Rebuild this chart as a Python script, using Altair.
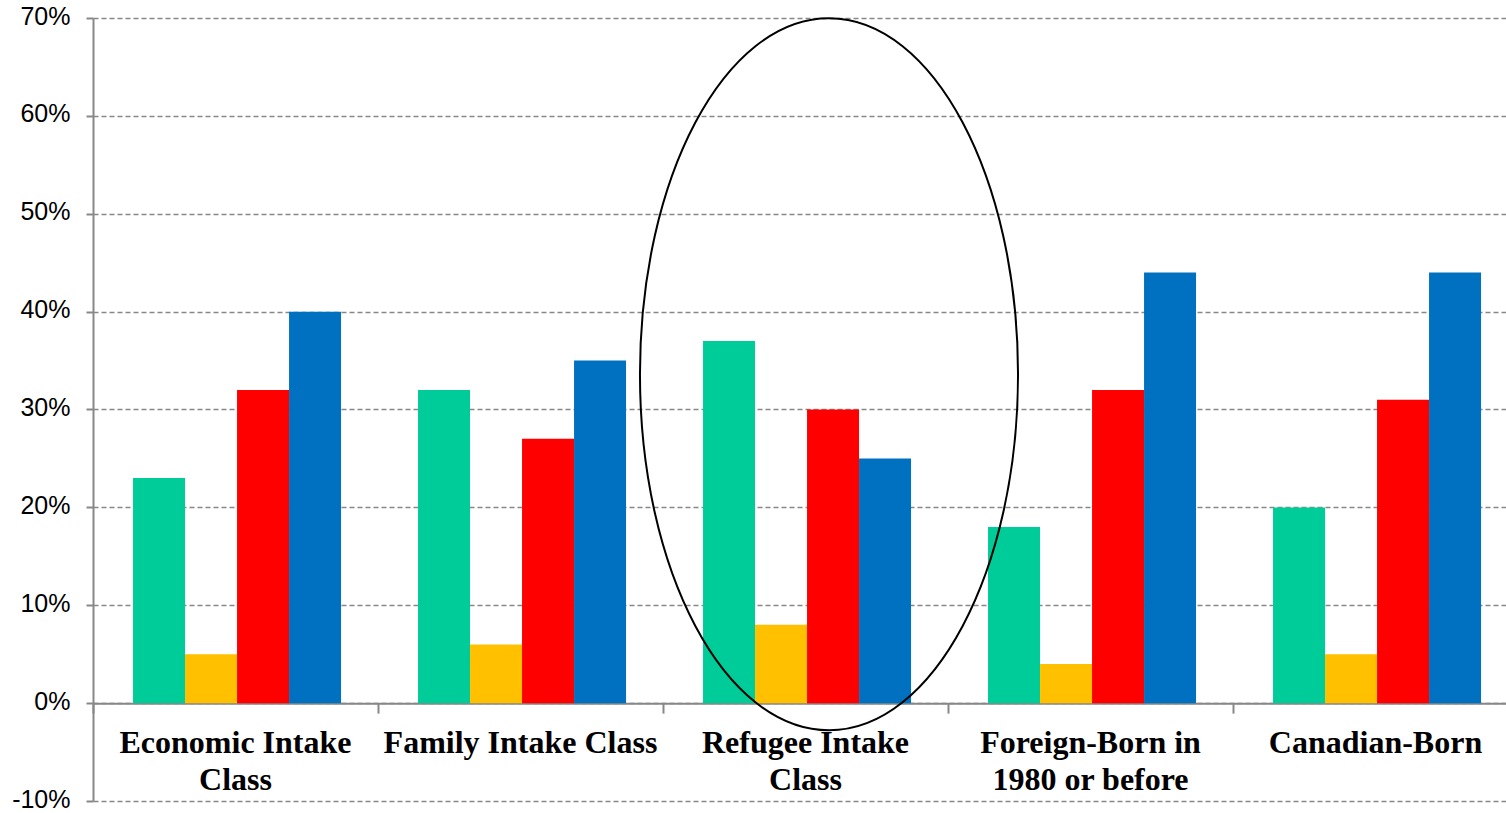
import altair as alt
import pandas as pd

categories = ["Economic Intake Class", "Family Intake Class", "Refugee Intake Class",
              "Foreign-Born in 1980 or before", "Canadian-Born"]
labels = ["Economic Intake\nClass", "Family Intake Class", "Refugee Intake\nClass",
          "Foreign-Born in\n1980 or before", "Canadian-Born"]
series = ["Series 1", "Series 2", "Series 3", "Series 4"]
colors = ["#00CC99", "#FFC000", "#FF0000", "#0070C0"]
values = {
    "Series 1": [0.23, 0.32, 0.37, 0.18, 0.20],
    "Series 2": [0.05, 0.06, 0.08, 0.04, 0.05],
    "Series 3": [0.32, 0.27, 0.30, 0.32, 0.31],
    "Series 4": [0.40, 0.35, 0.25, 0.44, 0.44],
}
ellipse_category = "Refugee Intake Class"
ellipse_center = 0.336

rows = []
for s in series:
    for c, v in zip(categories, values[s]):
        rows.append({"category": c, "series": s, "value": v})
df = pd.DataFrame(rows)
lab_df = pd.DataFrame({"category": categories, "label": labels})
ell_df = pd.DataFrame({"category": [ellipse_category], "value": [ellipse_center]})

xscale = alt.Scale(domain=categories, range=[0, 1425], paddingInner=0, paddingOuter=0)
yscale = alt.Scale(domain=[-0.1, 0.7], nice=False, zero=False)

bars = alt.Chart(df).mark_bar(strokeWidth=0).encode(
    x=alt.X("category:N", scale=xscale, sort=categories,
            axis=alt.Axis(title=None, labels=False, tickBand="extent", tickSize=10,
                          tickColor="#888888", tickWidth=2, domainColor="#888888",
                          domainWidth=2, offset=-97.875, grid=False)),
    xOffset=alt.XOffset("series:N", sort=series,
                        scale=alt.Scale(paddingInner=0, paddingOuter=0.74, align=0.52)),
    y=alt.Y("value:Q", scale=yscale,
            axis=alt.Axis(title=None, values=[-0.1, 0, 0.1, 0.2, 0.3, 0.4, 0.5, 0.6, 0.7],
                          labelExpr="round(datum.value*100) + '%'",
                          labelFont="Liberation Sans", labelFontSize=25, labelColor="#000000",
                          labelPadding=16, labelOffset=-2, labelBound=False,
                          tickSize=7, tickColor="#888888", tickWidth=2,
                          domainColor="#888888", domainWidth=2,
                          grid=True, gridColor="#888888", gridDash=[5, 3], gridWidth=1.5)),
    color=alt.Color("series:N", scale=alt.Scale(domain=series, range=colors), legend=None),
)

text = alt.Chart(lab_df).mark_text(
    font="Liberation Serif", fontWeight="bold", fontSize=32, color="#000000",
    baseline="alphabetic", align="center", dy=50, lineBreak="\n", lineHeight=37,
).encode(
    x=alt.X("category:N", scale=xscale, sort=categories),
    y=alt.Y("zero:Q", scale=yscale),
    text="label:N",
).transform_calculate(zero="0")

ellipse = alt.Chart(ell_df).mark_point(
    shape="M -0.465 0 A 0.531 1 0 1 1 0.597 0 A 0.531 1 0 1 1 -0.465 0 Z",
    filled=False, stroke="#000000", strokeWidth=2, size=506944, opacity=1,
).encode(
    x=alt.X("category:N", scale=xscale, sort=categories),
    y=alt.Y("value:Q", scale=yscale),
)

chart = alt.layer(bars, text, ellipse).properties(
    width=1413, height=783,
    padding={"left": 93, "top": 18, "right": 0, "bottom": 12},
    autosize=alt.AutoSizeParams(type="none"),
    background="#ffffff",
).configure_view(stroke=None)

chart.save("out.html", embed_options={"renderer": "svg", "actions": False})
